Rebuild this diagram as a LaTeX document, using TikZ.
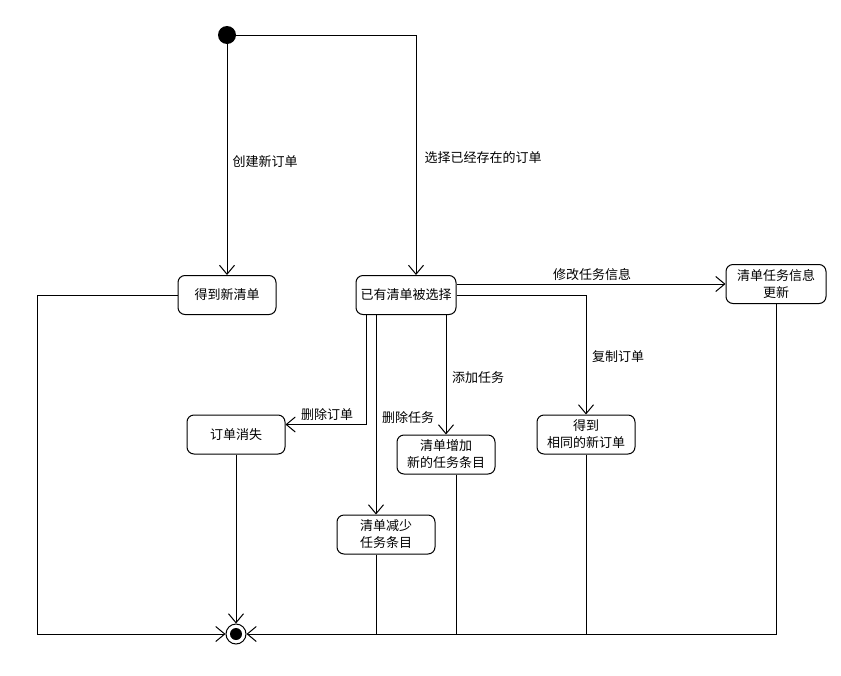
\documentclass[tikz,border=0pt]{standalone}
\usepackage{fontspec}
\setmainfont{Noto Sans CJK SC}
\usetikzlibrary{arrows.meta}
\begin{document}
\begin{tikzpicture}[x=1pt,y=-1pt,
  every node/.style={font=\fontsize{13}{17}\selectfont},
  state/.style={draw, rounded corners=7pt, minimum width=98pt, minimum height=39pt, align=center, inner sep=1pt, line width=1pt},
  flow/.style={draw, line width=1pt, -{Straight Barb[length=9pt,width=15pt]}},
  plain/.style={draw, line width=1pt},
  lbl/.style={inner sep=1pt}]
\useasboundingbox (0,0) rectangle (841,675);
\node[circle, fill, inner sep=0pt, minimum size=18pt] (init) at (227,35) {};
\node[state] (s1) at (227,295) {得到新清单};
\node[state, minimum width=100pt] (s2) at (406,295) {已有清单被选择};
\node[state, minimum width=100pt] (s3) at (776,284) {清单任务信息\\更新};
\node[state] (s4) at (236,434.5) {订单消失};
\node[state] (s5) at (446,454.5) {清单增加\\新的任务条目};
\node[state] (s6) at (386,534.5) {清单减少\\任务条目};
\node[state] (s7) at (586,434.5) {得到\\相同的新订单};
\node[circle, draw, line width=1pt, inner sep=0pt, minimum size=20pt] (fin) at (236,634) {};
\node[circle, fill, inner sep=0pt, minimum size=12pt] (finin) at (236,634) {};
\coordinate (cl) at (37,634);
% from initial
\draw[flow] (init) -- (s1.north);
\draw[flow] (init.east) -| ([xshift=10pt]s2.north);
% from s2
\draw[flow] (s2.east |- s3.west) -- (s3.west);
\draw[flow] (s2.east) -| (s7.north);
\draw[flow] (s5.north |- s2.south) -- (s5.north);
\draw[flow] ([xshift=-30pt]s2.south) -- ([xshift=-10pt]s6.north);
\draw[flow] ([xshift=-40pt]s2.south) |- ([yshift=10pt]s4.east);
% to final
\draw[flow] (s1.west) -| (cl) -- (fin.west);
\draw[flow] (s4.south) -- (fin.north);
\draw[flow] (s3.south) |- (fin.east);
\draw[plain] ([xshift=-10pt]s6.south) -- ([xshift=-10pt]s6.south |- fin);
\draw[plain] ([xshift=10pt]s5.south) -- ([xshift=10pt]s5.south |- fin);
\draw[plain] (s7.south) -- (s7.south |- fin);
% labels
\node[lbl] (l1) at (265,162) {创建新订单};
\node[lbl] (l2) at (483,158) {选择已经存在的订单};
\node[lbl] (l3) at (592,275) {修改任务信息};
\node[lbl] (l4) at (618,357) {复制订单};
\node[lbl] (l5) at (478,378) {添加任务};
\node[lbl] (l6) at (408,418) {删除任务};
\node[lbl] (l7) at (327,415) {删除订单};
\end{tikzpicture}
\end{document}
